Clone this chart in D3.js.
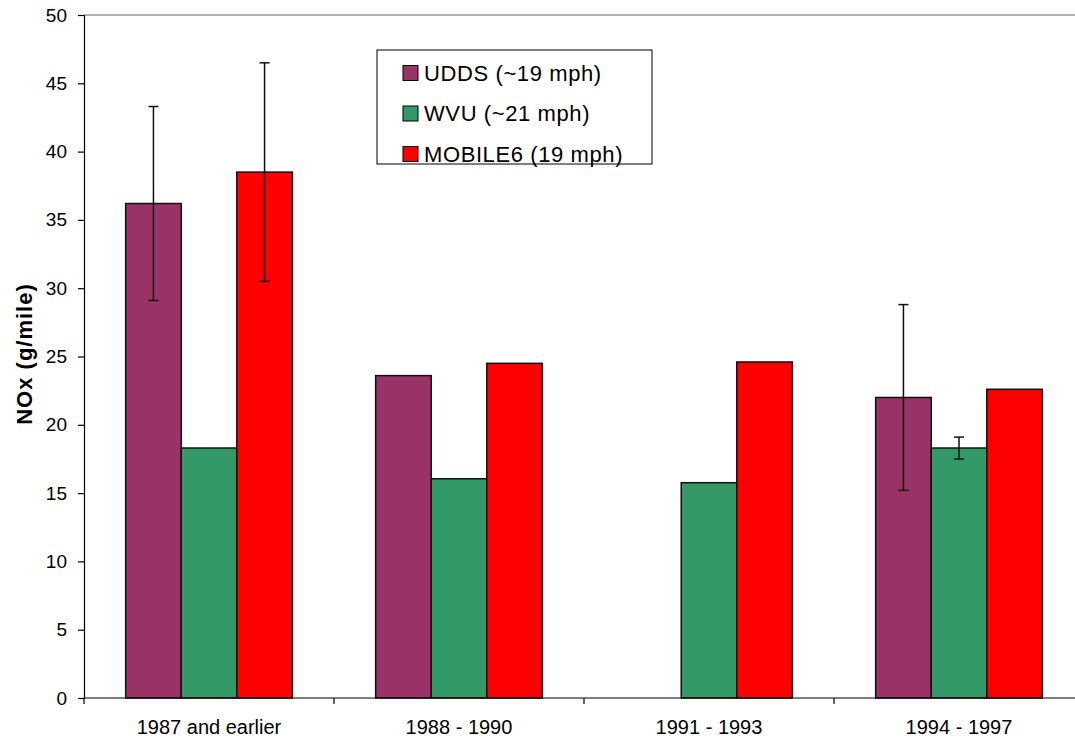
<!DOCTYPE html>
<html>
<head>
<meta charset="utf-8">
<script src="https://cdn.jsdelivr.net/npm/d3@7"></script>
<style>
  body { margin: 0; background: #fff; }
  svg { display: block; font-family: "Liberation Sans", Arial, sans-serif; }
</style>
</head>
<body>
<div id="chart"></div>
<script>
// categories and series
const categories = ["1987 and earlier", "1988 - 1990", "1991 - 1993", "1994 - 1997"];
const seriesNames = ["UDDS (~19 mph)", "WVU (~21 mph)", "MOBILE6 (19 mph)"];
const seriesColors = ["#993366", "#339966", "#FF0000"];

// values per series (null = no bar)
const udds = [36.2, 23.6, null, 22.0];
const wvu = [18.3, 16.05, 15.76, 18.3];
const mobile6 = [38.5, 24.5, 24.6, 22.6];

// error bar half-widths (null = none)
const uddsErr = [7.1, null, null, 6.8];
const wvuErr = [null, null, null, 0.8];
const mobile6Err = [8.0, null, null, null];

const yTicks = [0, 5, 10, 15, 20, 25, 30, 35, 40, 45, 50];

const margin = { top: 15, right: -9, bottom: 42, left: 84 },
  W = 1075, H = 740,
  width = W - margin.left - margin.right,
  height = H - margin.top - margin.bottom;

const svg = d3.select("#chart")
  .append("svg")
  .attr("width", W)
  .attr("height", H);

const g = svg.append("g")
  .attr("transform", `translate(${margin.left},${margin.top})`);

const x0 = d3.scaleBand()
  .domain(categories)
  .range([0, width])
  .padding(0);

// bars take 3 slots, gap of 1.5 bar widths split over both sides
const x1 = d3.scaleBand()
  .domain(seriesNames)
  .range([0, x0.bandwidth()])
  .paddingInner(0)
  .paddingOuter(0.75);

const y = d3.scaleLinear()
  .domain([0, 50])
  .range([height, 0]);

// top border of the plot area
g.append("line")
  .attr("x1", 0).attr("x2", width)
  .attr("y1", 0).attr("y2", 0)
  .attr("stroke", "#999").attr("stroke-width", 1.5);

const rows = [];
const vals = [udds, wvu, mobile6];
const errs = [uddsErr, wvuErr, mobile6Err];
categories.forEach((c, i) => {
  seriesNames.forEach((s, j) => {
    if (vals[j][i] != null) rows.push({ cat: c, series: s, j: j, v: vals[j][i], e: errs[j][i] });
  });
});

// bars
g.selectAll("rect.bar")
  .data(rows)
  .join("rect")
  .attr("class", "bar")
  .attr("x", d => x0(d.cat) + x1(d.series))
  .attr("y", d => y(d.v))
  .attr("width", x1.bandwidth())
  .attr("height", d => y(0) - y(d.v))
  .attr("fill", d => seriesColors[d.j])
  .attr("stroke", "#111")
  .attr("stroke-width", 1.5);

// error bars
const eb = g.selectAll("g.err")
  .data(rows.filter(d => d.e != null))
  .join("g")
  .attr("class", "err")
  .attr("transform", d => `translate(${x0(d.cat) + x1(d.series) + x1.bandwidth() / 2},0)`);

eb.append("line")
  .attr("y1", d => y(d.v - d.e)).attr("y2", d => y(d.v + d.e))
  .attr("stroke", "#111").attr("stroke-width", 1.5);
eb.selectAll("line.cap")
  .data(d => [d.v - d.e, d.v + d.e])
  .join("line")
  .attr("class", "cap")
  .attr("x1", -5).attr("x2", 5)
  .attr("y1", d => y(d)).attr("y2", d => y(d))
  .attr("stroke", "#111").attr("stroke-width", 1.5);

// y axis
const yAxis = g.append("g")
  .call(d3.axisLeft(y).tickValues(yTicks).tickSize(6).tickPadding(11));
yAxis.select(".domain").attr("stroke", "#000").attr("stroke-width", 1.2);
yAxis.selectAll(".tick line").attr("stroke", "#000").attr("stroke-width", 1.2);
yAxis.selectAll("text").style("font-size", "19px").attr("fill", "#000");

// x axis with ticks at category boundaries
const xAxis = g.append("g")
  .attr("transform", `translate(0,${height})`);
xAxis.append("line")
  .attr("x1", 0).attr("x2", width)
  .attr("stroke", "#000").attr("stroke-width", 1.2);
xAxis.selectAll("line.tk")
  .data(categories)
  .join("line")
  .attr("class", "tk")
  .attr("x1", d => x0(d)).attr("x2", d => x0(d))
  .attr("y1", 0).attr("y2", 6)
  .attr("stroke", "#000").attr("stroke-width", 1.2);
xAxis.selectAll("text")
  .data(categories)
  .join("text")
  .attr("x", d => x0(d) + x0.bandwidth() / 2)
  .attr("y", 36)
  .attr("text-anchor", "middle")
  .style("font-size", "20px")
  .text(d => d);

// y axis title
svg.append("text")
  .attr("transform", "translate(32,354) rotate(-90)")
  .attr("text-anchor", "middle")
  .style("font-size", "22px")
  .style("font-weight", "bold")
  .style("letter-spacing", "1px")
  .text("NOx (g/mile)");

// legend
const legend = svg.append("g").attr("transform", "translate(377,50)");
legend.append("rect")
  .attr("width", 275).attr("height", 114)
  .attr("fill", "#fff").attr("stroke", "#000").attr("stroke-width", 1);
const li = legend.selectAll("g.item")
  .data(seriesNames)
  .join("g")
  .attr("class", "item")
  .attr("transform", (d, i) => `translate(26,${23 + i * 40.5})`);
li.append("rect")
  .attr("x", 0).attr("y", -7.5)
  .attr("width", 15).attr("height", 15)
  .attr("fill", (d, i) => seriesColors[i])
  .attr("stroke", "#000").attr("stroke-width", 1);
li.append("text")
  .attr("x", 21).attr("y", 0)
  .attr("dy", "0.36em")
  .style("font-size", "22px")
  .style("letter-spacing", "0.6px")
  .text(d => d);
</script>
</body>
</html>
